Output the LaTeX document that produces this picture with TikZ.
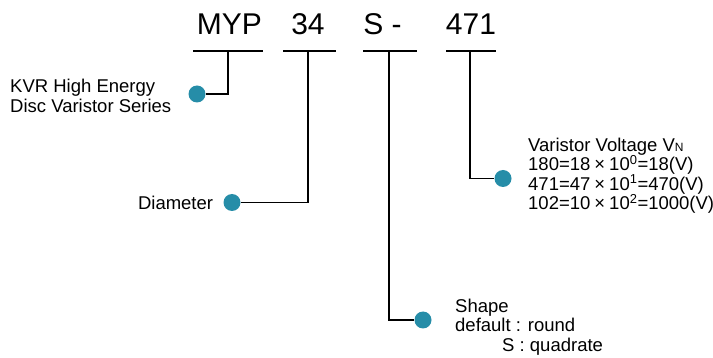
\documentclass[tikz,border=0pt]{standalone}
\usepackage{fontspec}
\setmainfont{Liberation Sans}
\usetikzlibrary{positioning}
\definecolor{dotteal}{RGB}{38,141,168}

\begin{document}
\begin{tikzpicture}[x=1pt,y=-1pt,font=\fontsize{18.5}{19.5}\selectfont]
  \tikzset{
    code/.style={
      font=\fontsize{30}{30}\selectfont,
      anchor=base,
      inner sep=0pt
    },
    lead/.style={line width=1.6pt},
    dot/.style={circle, fill=dotteal, minimum size=17pt, inner sep=0pt},
    info/.style={align=left, inner sep=0pt, anchor=north west}
  }
  \useasboundingbox (0,0) rectangle (713,358);

  % part code
  \node[code] (myp) at (229.5,35) {MYP};
  \node[code] (dia) at (308,35) {34};
  \node[code] (shp) at (382.5,35) {S -};
  \node[code] (volt) at (471,35) {471};

  \coordinate (mypbar) at (228,51);
  \coordinate (diabar) at (308,51);
  \coordinate (shpbar) at (389,51);
  \coordinate (voltbar) at (470,51);

  \draw[lead] ([xshift=-35pt]mypbar) -- ([xshift=35pt]mypbar);
  \draw[lead] ([xshift=-25pt]diabar) -- ([xshift=28pt]diabar);
  \draw[lead] ([xshift=-26pt]shpbar) -- ([xshift=28pt]shpbar);
  \draw[lead] ([xshift=-24pt]voltbar) -- ([xshift=26pt]voltbar);

  % dots
  \node[dot] (mypdot) at (197,94) {};
  \node[dot] (diadot) at (232,202.5) {};
  \node[dot] (voltdot) at (503,178.5) {};
  \node[dot] (shpdot) at (423,320) {};

  % explanations
  \node[info] (series) at (10,79) {KVR High Energy\\Disc Varistor Series};
  \node[info, anchor=east, left=10pt of diadot] (diameter) {Diameter};
  \node[info] (voltage) at (528,137.5) {Varistor Voltage V{\fontsize{12}{12}\selectfont N}\\
    180=18\hspace{4pt}×\hspace{4pt}10\textsuperscript{0}=18(V)\\
    471=47\hspace{4pt}×\hspace{4pt}10\textsuperscript{1}=470(V)\\
    102=10\hspace{4pt}×\hspace{4pt}10\textsuperscript{2}=1000(V)};
  \node[info] (shape) at (455,298.5) {Shape\\default : round\\\hspace*{47pt}S : quadrate};

  \draw[lead] (mypbar) |- (mypdot);
  \draw[lead] (diabar) |- (diadot);
  \draw[lead] (shpbar) |- (shpdot);
  \draw[lead] (voltbar) |- (voltdot);
\end{tikzpicture}
\end{document}
